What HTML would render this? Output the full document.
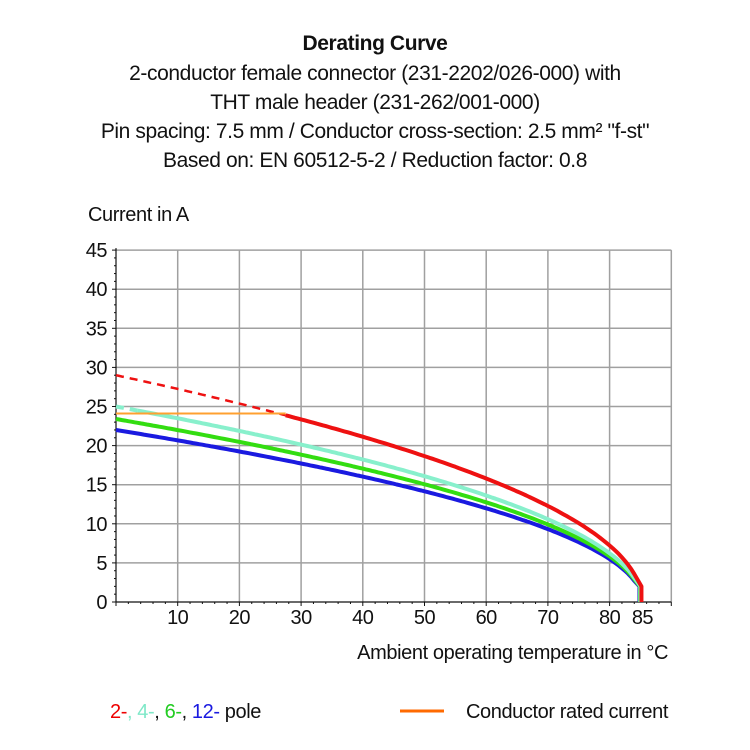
<!DOCTYPE html>
<html><head><meta charset="utf-8"><style>
body{margin:0;background:#fff;}
svg{display:block;font-family:"Liberation Sans",sans-serif;}
</style></head><body>
<svg id="s" width="750" height="750" viewBox="0 0 750 750" xmlns="http://www.w3.org/2000/svg">
<g font-size="21" text-anchor="middle" fill="#111" style="letter-spacing:-0.4px">
<text x="375" y="50" font-weight="bold">Derating Curve</text>
<text x="375" y="80">2-conductor female connector (231-2202/026-000) with</text>
<text x="375" y="109">THT male header (231-262/001-000)</text>
<text x="375" y="138">Pin spacing: 7.5 mm / Conductor cross-section: 2.5 mm² "f-st"</text>
<text x="375" y="167">Based on: EN 60512-5-2 / Reduction factor: 0.8</text>
</g>
<text x="88" y="221" font-size="20" fill="#111" style="letter-spacing:-0.4px">Current in A</text>
<g id="grid" stroke="#a0a0a0" stroke-width="1.5"></g>
<g id="ax" stroke="#111" stroke-width="1.2"></g>
<g id="lab" font-size="20" fill="#111" style="letter-spacing:-0.5px"></g>
<g id="curves" fill="none" stroke-width="4" stroke-linejoin="round"></g>
<text x="668" y="659" font-size="20" fill="#111" text-anchor="end" style="letter-spacing:-0.4px">Ambient operating temperature in °C</text>
<text x="110" y="718" font-size="20" style="letter-spacing:-0.4px"><tspan fill="#e00">2-</tspan><tspan fill="#7fe8c8">, 4-</tspan><tspan fill="#111">,</tspan><tspan fill="#22cc22"> 6-</tspan><tspan fill="#111">,</tspan><tspan fill="#1a1ae0"> 12-</tspan><tspan fill="#111"> pole</tspan></text>
<line x1="400" y1="711" x2="444" y2="711" stroke="#ff6a00" stroke-width="3"/>
<text x="668" y="718" font-size="20" fill="#111" text-anchor="end" style="letter-spacing:-0.4px">Conductor rated current</text>
</svg>
<script>
const X=t=>116+6.17*t, Y=a=>602-7.82*a, NS="http://www.w3.org/2000/svg";
function el(p,n,a,txt){const e=document.createElementNS(NS,n);for(const k in a)e.setAttribute(k,a[k]);if(txt!=null)e.textContent=txt;document.getElementById(p).appendChild(e);return e;}
for(let t=10;t<=90;t+=10)el("grid","line",{x1:X(t),y1:Y(45),x2:X(t),y2:Y(0)});
for(let a=5;a<=45;a+=5)el("grid","line",{x1:X(0),y1:Y(a),x2:X(90),y2:Y(a)});
el("ax","line",{x1:X(0),y1:Y(45)-2,x2:X(0),y2:Y(0)});
el("ax","line",{x1:X(0),y1:Y(0),x2:X(90),y2:Y(0)});
for(let a=0;a<=45;a+=1)el("ax","line",{x1:X(0)-(a%5?2:4),y1:Y(a),x2:X(0),y2:Y(a),"stroke-width":1});
for(let t=0;t<=90;t+=2)el("ax","line",{x1:X(t),y1:Y(0),x2:X(t),y2:Y(0)+(t%10?2:4),"stroke-width":1});
for(let a=0;a<=45;a+=5)el("lab","text",{x:107,y:Y(a)+7,"text-anchor":"end"},a);
for(let t=10;t<=80;t+=10)el("lab","text",{x:X(t),y:624,"text-anchor":"middle"},t);
el("lab","text",{x:X(85)+2,y:624,"text-anchor":"middle"},85);
function pts(I0,t0,t1){let p=[];for(let t=t0;t<=t1+1e-9;t+=0.5){let f=Math.sqrt(Math.max(0,1-t/85.3));p.push(X(t).toFixed(1)+","+Y(I0*f).toFixed(1));}return p.join(" ");}
function end(I0,dx){return X(84)+","+Y(I0*Math.sqrt(1-84/85.3))+" "+(X(85)+dx)+","+Y(2)+" "+(X(85)+dx)+","+Y(0);}
el("curves","polyline",{points:pts(22,0,84)+" "+end(22,-1),stroke:"#1a1ae0"});
el("curves","polyline",{points:pts(23.4,0,84)+" "+end(23.4,-0.5),stroke:"#33dd11"});
el("curves","polyline",{points:pts(25,0,3.5),stroke:"#88f0cc","stroke-dasharray":"8 6"});
el("curves","polyline",{points:pts(25,3.5,84)+" "+end(25,0),stroke:"#88f0cc"});
el("curves","polyline",{points:pts(29,0,27.5),stroke:"#ee1111","stroke-width":2.5,"stroke-dasharray":"8 6"});
el("curves","line",{x1:X(0),y1:Y(24.1),x2:X(27.5),y2:Y(24.1),stroke:"#ffa030","stroke-width":2});
el("curves","polyline",{points:pts(29,27.5,84)+" "+end(29,1),stroke:"#ee1111"});
</script>
</body></html>
